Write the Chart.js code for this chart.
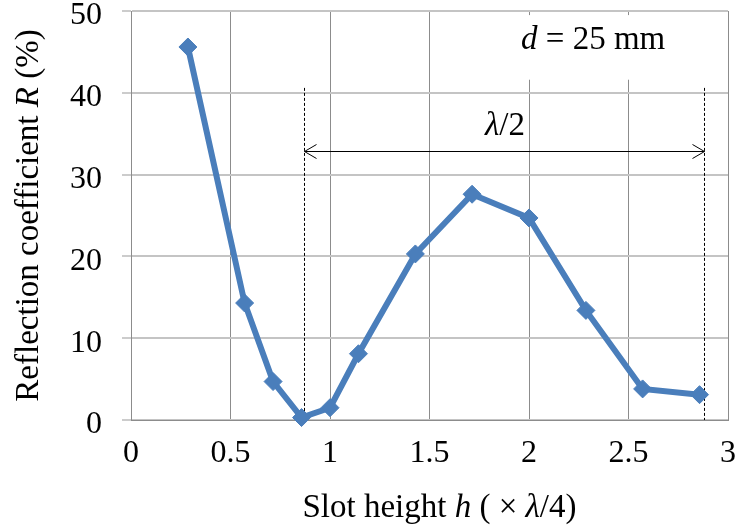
<!DOCTYPE html>
<html>
<head>
<meta charset="utf-8">
<script src="https://cdn.jsdelivr.net/npm/chart.js@4"></script>
<style>
  html, body { margin: 0; padding: 0; background: #fff; }
  #wrap { width: 739px; height: 529px; }
</style>
</head>
<body>
<div id="wrap"><canvas id="reflChart"></canvas></div>
<script>
// slot height h in units of lambda/4, reflection coefficient R in %
const slotHeight = [0.286, 0.571, 0.714, 0.857, 1.0, 1.143, 1.429, 1.714, 2.0, 2.286, 2.571, 2.857];
const reflection = [45.6, 14.3, 4.7, 0.3, 1.5, 8.1, 20.3, 27.6, 24.7, 13.4, 3.8, 3.1];

const xTickLabels = ['0', '0.5', '1', '1.5', '2', '2.5', '3'];
const yTickLabels = ['0', '10', '20', '30', '40', '50'];

// lambda/2 span marker (data units)
const spanStart = 0.87;
const spanEnd = 2.88;
const spanTop = 40.6;
const arrowLevel = 32.9;

const serif = "'Liberation Serif', 'Times New Roman', serif";
const blue = '#4a7ebb';

function drawRich(ctx, parts, x, y, size) {
  // parts drawn left to right starting at x, baseline y
  let cx = x;
  parts.forEach(p => {
    ctx.font = (p.italic ? 'italic ' : '') + size + 'px ' + serif;
    ctx.fillText(p.text, cx, y);
    cx += ctx.measureText(p.text).width;
  });
}

function richWidth(ctx, parts, size) {
  let w = 0;
  parts.forEach(p => {
    ctx.font = (p.italic ? 'italic ' : '') + size + 'px ' + serif;
    w += ctx.measureText(p.text).width;
  });
  return w;
}

const annotations = {
  id: 'annotations',
  beforeDatasetsDraw(chart) {
    const { ctx, scales: { x, y } } = chart;
    ctx.save();

    // white text box behind "d = 25 mm"
    ctx.fillStyle = '#fff';
    const bx0 = x.getPixelForValue(1.85), bx1 = x.getPixelForValue(2.86);
    const by0 = y.getPixelForValue(49.5), by1 = y.getPixelForValue(41.6);
    ctx.fillRect(bx0, by0, bx1 - bx0, by1 - by0);

    // dashed verticals
    ctx.strokeStyle = '#000';
    ctx.lineWidth = 1;
    ctx.setLineDash([3, 2]);
    [spanStart, spanEnd].forEach(v => {
      const px = Math.round(x.getPixelForValue(v)) + 0.5;
      ctx.beginPath();
      ctx.moveTo(px, y.getPixelForValue(spanTop));
      ctx.lineTo(px, y.getPixelForValue(0));
      ctx.stroke();
    });
    ctx.setLineDash([]);

    // double arrow
    const ax0 = Math.round(x.getPixelForValue(spanStart)) + 0.5;
    const ax1 = Math.round(x.getPixelForValue(spanEnd)) + 0.5;
    const ay = Math.round(y.getPixelForValue(arrowLevel)) + 0.5;
    ctx.beginPath();
    ctx.moveTo(ax0, ay);
    ctx.lineTo(ax1, ay);
    ctx.moveTo(ax0 + 12, ay - 7);
    ctx.lineTo(ax0, ay);
    ctx.lineTo(ax0 + 12, ay + 7);
    ctx.moveTo(ax1 - 12, ay - 7);
    ctx.lineTo(ax1, ay);
    ctx.lineTo(ax1 - 12, ay + 7);
    ctx.stroke();

    ctx.fillStyle = '#000';
    ctx.textBaseline = 'alphabetic';
    ctx.textAlign = 'left';

    // lambda/2 label
    const lam = [{ text: 'λ', italic: true }, { text: '/2', italic: false }];
    const lw = richWidth(ctx, lam, 33);
    drawRich(ctx, lam, x.getPixelForValue(1.879) - lw / 2, y.getPixelForValue(34.8), 33);

    // d = 25 mm
    const dLabel = [{ text: 'd', italic: true }, { text: ' = 25 mm', italic: false }];
    drawRich(ctx, dLabel, x.getPixelForValue(1.96), y.getPixelForValue(45.35), 33);

    ctx.restore();
  },
  afterDraw(chart) {
    const { ctx, chartArea } = chart;
    ctx.save();
    ctx.fillStyle = '#000';
    ctx.textBaseline = 'alphabetic';
    ctx.textAlign = 'left';

    // x axis title
    const xt = [
      { text: 'Slot height ', italic: false },
      { text: 'h', italic: true },
      { text: ' ( × ', italic: false },
      { text: 'λ', italic: true },
      { text: '/4)', italic: false }
    ];
    const xw = richWidth(ctx, xt, 33);
    const xc = (chartArea.left + chartArea.right) / 2 + 10;
    drawRich(ctx, xt, xc - xw / 2, chart.height - 12, 33);

    // y axis title, rotated
    const yt = [
      { text: 'Reflection coefficient ', italic: false },
      { text: 'R', italic: true },
      { text: ' (%)', italic: false }
    ];
    const yw = richWidth(ctx, yt, 33);
    const yc = (chartArea.top + chartArea.bottom) / 2;
    ctx.translate(38, yc);
    ctx.rotate(-Math.PI / 2);
    drawRich(ctx, yt, -yw / 2, 0, 33);

    ctx.restore();
  }
};

const ctx = document.getElementById('reflChart').getContext('2d');
const reflChart = new Chart(ctx, {
  type: 'line',
  data: {
    datasets: [{
      label: 'R',
      data: slotHeight.map((h, i) => ({ x: h, y: reflection[i] })),
      borderColor: blue,
      backgroundColor: blue,
      borderWidth: 6,
      pointStyle: 'rectRot',
      pointRadius: 9,
      pointBorderWidth: 1,
      pointBackgroundColor: blue,
      pointBorderColor: blue,
      tension: 0,
      clip: false
    }]
  },
  options: {
    responsive: true,
    maintainAspectRatio: false,
    animation: false,
    layout: { padding: { top: 11, right: 11, left: 0, bottom: 0 } },
    plugins: {
      legend: { display: false },
      tooltip: { enabled: false }
    },
    scales: {
      x: {
        type: 'linear',
        min: 0,
        max: 3,
        afterBuildTicks: scale => {
          scale.ticks = xTickLabels.map(t => ({ value: parseFloat(t) }));
        },
        ticks: {
          callback: (v, i) => xTickLabels[i],
          font: { family: serif, size: 32 },
          color: '#000',
          padding: 14,
          maxRotation: 0,
          autoSkip: false
        },
        grid: { color: '#8c8c8c', lineWidth: 1, drawTicks: false },
        border: { color: '#8c8c8c', width: 1 },
        afterFit: scale => {
          scale.height = 109;
          scale.paddingLeft = 0;
          scale.paddingRight = 0;
        }
      },
      y: {
        min: 0,
        max: 50,
        afterBuildTicks: scale => {
          scale.ticks = yTickLabels.map(t => ({ value: parseFloat(t) }));
        },
        ticks: {
          callback: (v, i) => yTickLabels[i],
          font: { family: serif, size: 32 },
          color: '#000',
          padding: 20,
          labelOffset: 5
        },
        grid: { color: '#c4c4c4', lineWidth: 2, tickLength: 9, tickColor: '#999', tickWidth: 1 },
        border: { color: '#8c8c8c', width: 1 },
        afterFit: scale => {
          scale.width = 131;
          scale.paddingTop = 0;
          scale.paddingBottom = 0;
        }
      }
    }
  },
  plugins: [annotations]
});
</script>
</body>
</html>
